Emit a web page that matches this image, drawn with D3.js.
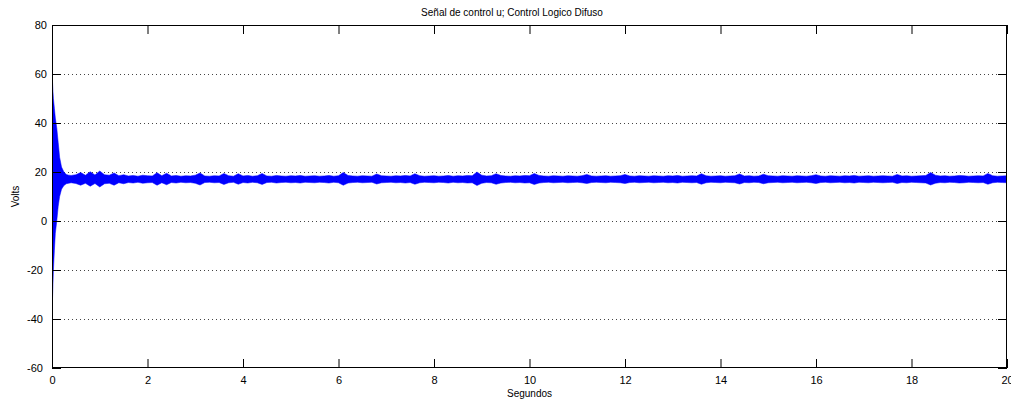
<!DOCTYPE html>
<html>
<head>
<meta charset="utf-8">
<script src="https://cdn.jsdelivr.net/npm/d3@7"></script>
<style>
  body { margin: 0; background: #fff; }
  svg { display: block; font-family: 'Liberation Sans', Arial, sans-serif; }
  .tick text { font-size: 11px; fill: #000; }
  .grid line { stroke: #444; stroke-dasharray: 1,3; }
</style>
</head>
<body>
<svg id="chart"></svg>
<script>
// tick values
const xTicks = [0, 2, 4, 6, 8, 10, 12, 14, 16, 18, 20];
const yTicks = [-60, -40, -20, 0, 20, 40, 60, 80];

// transient at start (upper / lower envelope of the control signal)
const tTransient = [0, 0.01, 0.02, 0.03, 0.05, 0.07, 0.1, 0.13, 0.16, 0.2, 0.25, 0.3, 0.35];
const hiTransient = [61, 57, 53, 50, 46, 42, 38, 32, 26, 22, 20, 19, 18.7];
const loTransient = [-38, -32, -26, -20, -12, -5, 0, 6, 10, 13, 14.5, 15.2, 15.4];

// steady part, one envelope reading every 0.1 s from t = 0.4 s
const steadyStart = 0.4;
const steadyStep = 0.1;
const hiSteady = [
  18.6, 18.9, 19.8, 18.7, 20.1, 18.8, 20.4, 18.9, 18.7, 19.6,
  18.5, 18.9, 18.4, 18.6, 18.3, 18.7, 18.5, 18.4, 19.7, 18.5,
  19.5, 18.4, 18.6, 18.3, 18.5, 18.4, 18.7, 19.6, 18.4, 18.3,
  18.5, 18.4, 19.4, 18.5, 18.3, 19.3, 18.4, 18.6, 18.3, 18.5,
  19.4, 18.4, 18.3, 18.6, 18.4, 18.3, 18.5, 18.4, 18.6, 18.3,
  18.4, 18.5, 18.3, 18.4, 18.6, 18.3, 18.5, 19.8, 18.6, 18.4,
  18.3, 18.5, 18.4, 18.3, 19.2, 18.5, 18.4, 18.3, 18.5, 18.4,
  18.6, 18.4, 19.3, 18.5, 18.3, 18.4, 18.5, 18.3, 18.4, 18.6,
  18.3, 18.5, 18.4, 18.6, 18.5, 20.0, 18.7, 18.4, 18.5, 19.3,
  18.6, 18.4, 18.3, 18.5, 18.4, 18.6, 18.5, 19.4, 18.6, 18.4,
  18.3, 18.5, 18.4, 18.3, 18.5, 18.4, 18.3, 18.5, 19.0, 18.4,
  18.3, 18.4, 18.5, 18.3, 18.4, 18.5, 19.0, 18.4, 18.3, 18.5,
  18.4, 18.3, 18.5, 18.4, 18.3, 18.5, 18.4, 18.6, 18.3, 18.4,
  18.5, 18.4, 19.3, 18.5, 18.3, 18.4, 18.5, 18.3, 18.4, 18.5,
  19.2, 18.4, 18.5, 18.3, 18.4, 19.1, 18.5, 18.4, 18.3, 18.5,
  18.4, 18.3, 18.5, 18.4, 18.3, 18.5, 18.9, 18.4, 18.3, 18.5,
  18.4, 18.3, 18.5, 18.4, 18.6, 18.3, 18.4, 18.5, 18.3, 18.4,
  18.5, 18.4, 18.3, 19.0, 18.4, 18.5, 18.3, 18.4, 18.5, 18.6,
  19.8, 18.7, 18.4, 18.5, 18.3, 18.4, 18.6, 18.5, 18.3, 18.4,
  18.5, 18.4, 19.4, 18.5, 18.3, 18.4, 18.5
];
const loSteady = [
  15.6, 15.3, 14.6, 15.4, 14.2, 15.3, 13.9, 15.2, 15.4, 14.6,
  15.6, 15.2, 15.7, 15.5, 15.8, 15.4, 15.6, 15.7, 14.6, 15.6,
  14.8, 15.7, 15.5, 15.8, 15.6, 15.7, 15.4, 14.7, 15.7, 15.8,
  15.6, 15.7, 14.9, 15.6, 15.8, 15.0, 15.7, 15.5, 15.8, 15.6,
  14.9, 15.7, 15.8, 15.5, 15.7, 15.8, 15.6, 15.7, 15.5, 15.8,
  15.7, 15.6, 15.8, 15.7, 15.5, 15.8, 15.6, 14.6, 15.5, 15.7,
  15.8, 15.6, 15.7, 15.8, 15.1, 15.6, 15.7, 15.8, 15.6, 15.7,
  15.5, 15.7, 15.0, 15.6, 15.8, 15.7, 15.6, 15.8, 15.7, 15.5,
  15.8, 15.6, 15.7, 15.5, 15.6, 14.5, 15.4, 15.7, 15.6, 15.0,
  15.5, 15.7, 15.8, 15.6, 15.7, 15.5, 15.6, 14.9, 15.5, 15.7,
  15.8, 15.6, 15.7, 15.8, 15.6, 15.7, 15.8, 15.6, 15.3, 15.7,
  15.8, 15.7, 15.6, 15.8, 15.7, 15.6, 15.3, 15.7, 15.8, 15.6,
  15.7, 15.8, 15.6, 15.7, 15.8, 15.6, 15.7, 15.5, 15.8, 15.7,
  15.6, 15.7, 15.0, 15.6, 15.8, 15.7, 15.6, 15.8, 15.7, 15.6,
  15.1, 15.7, 15.6, 15.8, 15.7, 15.2, 15.6, 15.7, 15.8, 15.6,
  15.7, 15.8, 15.6, 15.7, 15.8, 15.6, 15.3, 15.7, 15.8, 15.6,
  15.7, 15.8, 15.6, 15.7, 15.5, 15.8, 15.7, 15.6, 15.8, 15.7,
  15.6, 15.7, 15.8, 15.3, 15.7, 15.6, 15.8, 15.7, 15.6, 15.5,
  14.7, 15.4, 15.7, 15.6, 15.8, 15.7, 15.5, 15.6, 15.8, 15.7,
  15.6, 15.7, 15.0, 15.6, 15.8, 15.7, 15.6
];

const W = 1011, H = 402;
const margin = {top: 25, right: 4, bottom: 34, left: 52};
const width = W - margin.left - margin.right;
const height = H - margin.top - margin.bottom;

const svg = d3.select('#chart')
    .attr('width', W)
    .attr('height', H);
const g = svg.append('g')
    .attr('transform', 'translate(' + margin.left + ',' + margin.top + ')');

const x = d3.scaleLinear().domain([0, 20]).range([0, width]);
const y = d3.scaleLinear().domain([-60, 80]).range([height, 0]);

// join transient + steady envelopes into one band
const band = tTransient.map((t, i) => ({t: t, hi: hiTransient[i], lo: loTransient[i]}))
  .concat(hiSteady.map((h, i) => ({t: steadyStart + i * steadyStep, hi: h, lo: loSteady[i]})));

// horizontal dotted grid
g.append('g')
    .attr('class', 'grid')
    .selectAll('line')
    .data(yTicks.filter(v => v > -60 && v < 80))
    .join('line')
    .attr('x1', 0)
    .attr('x2', width)
    .attr('y1', d => Math.round(y(d)) + 0.5)
    .attr('y2', d => Math.round(y(d)) + 0.5);

g.append('clipPath').attr('id', 'clip')
  .append('rect').attr('width', width).attr('height', height);

const area = d3.area()
    .x(d => x(d.t))
    .y0(d => y(d.lo))
    .y1(d => y(d.hi));
g.append('path')
    .datum(band)
    .attr('clip-path', 'url(#clip)')
    .attr('fill', '#0000ff')
    .attr('stroke', '#0000ff')
    .attr('stroke-width', 0.5)
    .attr('d', area);

// axes, ticks pointing inward on all four sides
g.append('g')
    .attr('transform', 'translate(0,' + height + ')')
    .call(d3.axisBottom(x).tickValues(xTicks).tickSize(-9).tickPadding(8).tickFormat(d3.format('d')));
g.append('g')
    .call(d3.axisTop(x).tickValues(xTicks).tickSize(-9).tickFormat(''));
const yAxis = g.append('g')
    .call(d3.axisLeft(y).tickValues(yTicks).tickSize(-9).tickPadding(5).tickFormat(d3.format('d')));
g.append('g')
    .attr('transform', 'translate(' + width + ',0)')
    .call(d3.axisRight(y).tickValues(yTicks).tickSize(-9).tickFormat(''));

g.selectAll('.domain').remove();
g.selectAll('.tick line').attr('stroke', '#000');
// negative labels sit a bit further left, like the original export
yAxis.selectAll('.tick text')
    .attr('dx', d => d < 0 ? -4 : 0)
    .text(d => d < 0 ? '-' + Math.abs(d) : d);

g.append('rect')
    .attr('x', 0.5)
    .attr('y', 0.5)
    .attr('width', width - 1)
    .attr('height', height - 1)
    .attr('fill', 'none')
    .attr('stroke', '#000');

svg.append('text')
    .attr('x', 512)
    .attr('y', 16)
    .attr('text-anchor', 'middle')
    .style('font-size', '10px')
    .text('Señal de control u; Control Logico Difuso');

svg.append('text')
    .attr('x', margin.left + width / 2)
    .attr('y', 397)
    .attr('text-anchor', 'middle')
    .style('font-size', '10px')
    .text('Segundos');

svg.append('text')
    .attr('transform', 'translate(19,' + (margin.top + height / 2) + ') rotate(-90)')
    .attr('text-anchor', 'middle')
    .style('font-size', '10px')
    .text('Volts');
</script>
</body>
</html>
